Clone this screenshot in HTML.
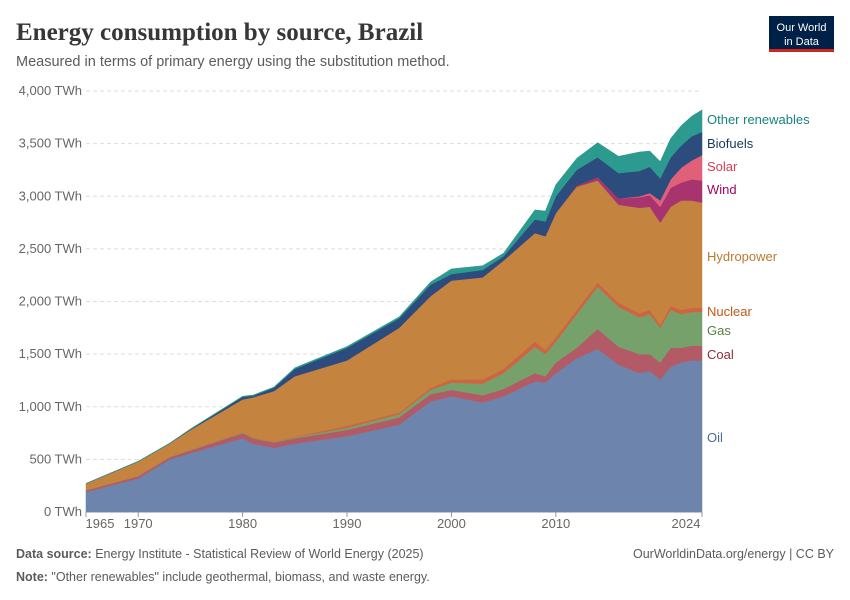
<!DOCTYPE html>
<html><head><meta charset="utf-8"><style>
body{margin:0;background:#fff;font-family:"Liberation Sans",sans-serif;}
#w{position:relative;width:850px;height:600px;overflow:hidden}
</style></head><body><div id="w">
<svg id="s" width="850" height="600" xmlns="http://www.w3.org/2000/svg">
<text x="16" y="40" font-family="Liberation Serif,serif" font-size="25" font-weight="bold" fill="#373737">Energy consumption by source, Brazil</text>
<text x="16" y="66" font-size="14.5" fill="#5b5b5b">Measured in terms of primary energy using the substitution method.</text>
<rect x="769" y="16" width="65" height="36" fill="#002147"/>
<rect x="769" y="49" width="65" height="3" fill="#ce261e"/>
<text x="801.5" y="31" font-size="11" fill="#fff" text-anchor="middle">Our World</text>
<text x="801.5" y="45" font-size="11" fill="#fff" text-anchor="middle">in Data</text>
<g id="grid"></g><g id="areas"></g><g id="labs"></g>
<text x="16" y="558" font-size="12.5" fill="#5b5b5b"><tspan font-weight="bold">Data source:</tspan> Energy Institute - Statistical Review of World Energy (2025)</text>
<text x="834" y="558" font-size="12.5" fill="#5b5b5b" text-anchor="end">OurWorldinData.org/energy | CC BY</text>
<text x="16" y="581" font-size="12.5" fill="#5b5b5b"><tspan font-weight="bold">Note:</tspan> "Other renewables" include geothermal, biomass, and waste energy.</text>
</svg>
<script>
const NS="http://www.w3.org/2000/svg";
function el(p,t,a,txt){const e=document.createElementNS(NS,t);for(const k in a)e.setAttribute(k,a[k]);if(txt!=null)e.textContent=txt;p.appendChild(e);return e;}
const X=y=>86+(y-1965)*616/59, Y=v=>512-v*0.10525;
const g=document.getElementById('grid');
for(let i=0;i<=8;i++){const v=i*500,y=Y(v);
 if(i>0)el(g,'line',{x1:86,x2:702,y1:y,y2:y,stroke:'#ddd','stroke-dasharray':'4,3'});
 el(g,'text',{x:82,y:y+4,'font-size':13,fill:'#666','text-anchor':'end'},(v?v.toLocaleString('en-US'):'0')+' TWh');}
el(g,'line',{x1:86,x2:702,y1:512,y2:512,stroke:'#999'});
[1965,1970,1980,1990,2000,2010,2024].forEach(yr=>{const x=X(yr);el(g,'line',{x1:x,x2:x,y1:512,y2:517,stroke:'#999'});
 el(g,'text',{x:yr==1965?x+14:(yr==2024?x-16:x),y:528,'font-size':13,fill:'#666','text-anchor':'middle'},yr);});
const yrs=[1965,1970,1973,1975,1980,1981,1983,1985,1990,1995,1998,2000,2003,2005,2008,2009,2010,2012,2014,2016,2018,2019,2020,2021,2022,2023,2024];
const L=[
["Oil","#6d84ad","#4c6a9c",[190,320,500,560,700,650,610,650,720,830,1050,1100,1040,1100,1240,1230,1320,1460,1550,1400,1320,1340,1260,1380,1420,1440,1440]],
["Coal","#b25b67","#883039",[205,340,520,585,750,700,660,700,780,900,1120,1160,1110,1170,1320,1290,1420,1560,1740,1570,1500,1500,1420,1560,1560,1580,1580]],
["Gas","#76a16b","#578145",[207,342,523,590,755,705,666,710,800,930,1160,1230,1220,1320,1570,1500,1620,1880,2140,1950,1850,1880,1750,1920,1880,1900,1900]],
["Nuclear","#cf6440","#c05917",[207,342,523,590,755,705,670,715,820,945,1180,1260,1260,1360,1620,1540,1660,1920,2180,1990,1890,1920,1780,1960,1920,1940,1940]],
["Hydropower","#c4843f","#bc8e5a",[270,480,650,780,1070,1090,1150,1290,1440,1750,2050,2200,2230,2390,2650,2620,2840,3090,3150,2920,2890,2900,2750,2900,2960,2960,2940]],
["Wind","#a8346f","#a2065e",null],
["Solar","#e0607a","#d73c50",null],
["Biofuels","#2b4c7c","#18365f",[270,480,650,785,1095,1105,1180,1360,1560,1840,2160,2260,2300,2430,2780,2760,3000,3250,3370,3220,3240,3280,3160,3370,3480,3570,3610]],
["Other renewables","#2d9a8f","#18847b",[272,483,654,790,1100,1112,1188,1370,1572,1855,2185,2310,2340,2460,2870,2860,3110,3360,3510,3380,3420,3430,3330,3550,3670,3760,3820]]];
const hy=L[4][3];
L[5][3]=hy.map((v,i)=>{const y=yrs[i];const w={2012:10,2014:30,2016:60,2018:100,2019:110,2020:150,2021:180,2022:170,2023:200,2024:210}[y]||0;return v+w;});
L[6][3]=L[5][3].map((v,i)=>{const y=yrs[i];const s={2018:10,2019:20,2020:60,2021:80,2022:140,2023:180,2024:240}[y]||0;return v+s;});
L[7][3]=L[7][3].map((v,i)=>Math.max(v,L[6][3][i]+(yrs[i]>=2016?210:0)));
const a=document.getElementById('areas');
let prev=yrs.map(()=>0);
L.forEach(l=>{const top=l[3];let d="M"+yrs.map((y,i)=>X(y).toFixed(1)+","+Y(top[i]).toFixed(1)).join("L");
 for(let i=yrs.length-1;i>=0;i--)d+="L"+X(yrs[i]).toFixed(1)+","+Y(prev[i]).toFixed(1);
 el(a,'path',{d:d+"Z",fill:l[1],stroke:l[1],'stroke-width':0.5});prev=top;});
const lb=document.getElementById('labs');
[["Other renewables",124,"#18847b"],["Biofuels",148,"#18365f"],["Solar",171,"#d73c50"],["Wind",194,"#a2065e"],["Hydropower",261,"#bc7a30"],["Nuclear",316,"#c05917"],["Gas",335,"#578145"],["Coal",359,"#883039"],["Oil",442,"#4c6a9c"]]
.forEach(t=>el(lb,'text',{x:707,y:t[1],'font-size':13,fill:t[2]},t[0]));
</script>
</div></body></html>
